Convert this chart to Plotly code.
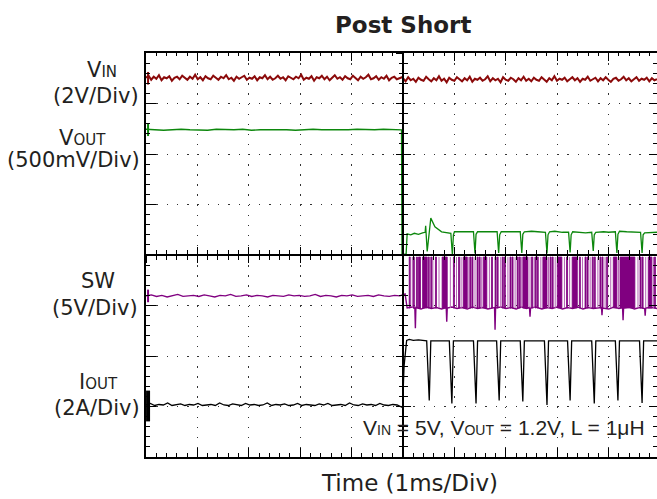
import numpy as np
import plotly.graph_objects as go

# ---------------- data (time in ms, amplitude in scope divisions) ----------------
vin_left = [7.51, 7.55, 7.47, 7.53, 7.49, 7.56, 7.46, 7.52, 7.50, 7.54,
            7.45, 7.51, 7.53, 7.48, 7.55, 7.50, 7.47, 7.53, 7.49, 7.57,
            7.48, 7.52, 7.46, 7.54, 7.50, 7.48, 7.55, 7.51, 7.47, 7.53,
            7.50, 7.56, 7.48, 7.51, 7.45, 7.53, 7.49, 7.52, 7.55, 7.47,
            7.51, 7.49, 7.54, 7.46, 7.52, 7.50, 7.56, 7.48, 7.53, 7.47,
            7.50, 7.55, 7.49, 7.52, 7.46, 7.54, 7.51, 7.48, 7.53, 7.50,
            7.57, 7.47, 7.51, 7.49, 7.54, 7.45, 7.52, 7.50, 7.55, 7.48,
            7.53, 7.46, 7.51, 7.56, 7.49, 7.52, 7.47, 7.54, 7.50, 7.48,
            7.55, 7.51, 7.46, 7.53, 7.49, 7.52, 7.57, 7.48, 7.50, 7.54,
            7.47, 7.52, 7.49, 7.55, 7.46, 7.51, 7.53, 7.48, 7.50, 7.52]
vin_right = [7.50, 7.44, 7.52, 7.46, 7.49, 7.43, 7.51, 7.47, 7.45, 7.53,
             7.48, 7.44, 7.50, 7.46, 7.54, 7.45, 7.49, 7.42, 7.51, 7.47,
             7.45, 7.52, 7.48, 7.44, 7.50, 7.46, 7.53, 7.43, 7.49, 7.47,
             7.51, 7.45, 7.48, 7.54, 7.44, 7.50, 7.46, 7.49, 7.42, 7.52,
             7.47, 7.45, 7.51, 7.48, 7.43, 7.50, 7.46, 7.53, 7.45, 7.49,
             7.44, 7.51, 7.47, 7.45, 7.52, 7.48, 7.43, 7.50, 7.46, 7.54,
             7.45, 7.49, 7.47, 7.51, 7.44, 7.48, 7.52, 7.46, 7.50, 7.43,
             7.49, 7.47, 7.53, 7.45, 7.48, 7.51, 7.44, 7.50, 7.46, 7.52,
             7.47, 7.43, 7.49, 7.51, 7.45, 7.48, 7.53, 7.46, 7.50, 7.44,
             7.48, 7.52, 7.45, 7.49, 7.47, 7.51, 7.44, 7.50, 7.46, 7.48]

vout_left = [6.49, 6.48, 6.47, 6.48, 6.49, 6.48, 6.48, 6.47, 6.49, 6.48, 6.48, 6.49, 6.47, 6.48, 6.48,
             6.49, 6.48, 6.47, 6.48, 6.49, 6.48, 6.48, 6.47, 6.48, 6.49, 6.48, 6.48, 6.49, 6.48, 6.48]
vout_right = [(4.97, 6.48), (4.98, 4.00), (5.06, 4.02), (5.08, 4.42), (5.15, 4.40), (5.22, 4.43),
              (5.30, 4.41), (5.38, 4.44), (5.43, 4.45), (5.44, 4.58), (5.47, 4.07), (5.54, 4.73),
              (5.62, 4.56), (5.75, 4.46), (5.88, 4.43), (5.93, 4.43), (5.96, 4.00), (5.98, 4.40),
              (6.00, 4.46), (6.12, 4.46), (6.20, 4.47), (6.30, 4.46), (6.37, 4.46), (6.40, 4.03),
              (6.42, 4.41), (6.45, 4.46), (6.60, 4.46), (6.70, 4.47), (6.83, 4.46), (6.86, 4.04),
              (6.88, 4.40), (6.91, 4.46), (7.05, 4.46), (7.15, 4.45), (7.28, 4.46), (7.31, 4.04),
              (7.33, 4.41), (7.36, 4.46), (7.50, 4.47), (7.62, 4.46), (7.77, 4.45), (7.80, 4.03),
              (7.82, 4.40), (7.85, 4.46), (7.95, 4.47), (8.10, 4.45), (8.22, 4.45), (8.25, 4.05),
              (8.27, 4.40), (8.30, 4.46), (8.45, 4.45), (8.55, 4.44), (8.67, 4.45), (8.70, 4.08),
              (8.72, 4.40), (8.75, 4.45), (8.90, 4.46), (9.00, 4.45), (9.13, 4.46), (9.16, 4.04),
              (9.18, 4.41), (9.21, 4.47), (9.35, 4.46), (9.50, 4.45), (9.62, 4.45), (9.65, 4.04),
              (9.67, 4.40), (9.70, 4.44), (9.85, 4.45), (9.94, 4.45)]

sw_left = [3.19, 3.21, 3.18, 3.20, 3.17, 3.19, 3.22, 3.18, 3.19, 3.20, 3.18, 3.21, 3.19, 3.17, 3.20,
           3.19, 3.22, 3.18, 3.19, 3.21, 3.18, 3.20, 3.19, 3.17, 3.20, 3.19, 3.18, 3.21, 3.19, 3.20,
           3.18, 3.19, 3.22, 3.18, 3.20, 3.19, 3.17, 3.20, 3.19, 3.21, 3.18, 3.19, 3.20, 3.18, 3.21,
           3.19, 3.18, 3.20, 3.19, 3.23]
sw_base = [(5.08, 2.95), (5.18, 2.97), (5.23, 2.94), (5.24, 2.55), (5.25, 2.96), (5.35, 2.93),
           (5.45, 2.97), (5.55, 2.94), (5.65, 2.96), (5.75, 2.93), (5.84, 2.96), (5.85, 2.68),
           (5.86, 2.95), (5.95, 2.97), (6.05, 2.94), (6.15, 2.96), (6.25, 2.93), (6.35, 2.97),
           (6.45, 2.94), (6.55, 2.96), (6.65, 2.93), (6.78, 2.96), (6.79, 2.52), (6.80, 2.95),
           (6.90, 2.97), (7.00, 2.94), (7.10, 2.96), (7.20, 2.93), (7.30, 2.97), (7.40, 2.94),
           (7.46, 2.96), (7.47, 2.78), (7.48, 2.95), (7.58, 2.97), (7.70, 2.93), (7.80, 2.96),
           (7.90, 2.94), (8.00, 2.97), (8.10, 2.93), (8.20, 2.96), (8.30, 2.94), (8.40, 2.97),
           (8.50, 2.93), (8.60, 2.96), (8.70, 2.94), (8.86, 2.96), (8.87, 2.81), (8.88, 2.95),
           (9.00, 2.93), (9.10, 2.97), (9.20, 2.94), (9.27, 2.96), (9.28, 2.71), (9.29, 2.95),
           (9.40, 2.97), (9.50, 2.93), (9.60, 2.96), (9.70, 2.94), (9.71, 2.80), (9.72, 2.95),
           (9.85, 2.96), (9.94, 2.94)]
sw_levels = [2.95, 3.96]  # low / high switching levels
sw_on = [(5.12, 5.14), (5.20, 5.22), (5.26, 5.28), (5.30, 5.34), (5.38, 5.47), (5.49, 5.51),
         (5.54, 5.56), (5.63, 5.65), (5.76, 5.86), (5.98, 6.00), (6.08, 6.10), (6.17, 6.25),
         (6.30, 6.32), (6.34, 6.36), (6.44, 6.46), (6.48, 6.50), (6.56, 6.63), (6.72, 6.74),
         (6.79, 6.81), (6.83, 6.85), (6.93, 6.95), (6.97, 6.99), (7.08, 7.10), (7.12, 7.14),
         (7.22, 7.24), (7.26, 7.28), (7.33, 7.43), (7.50, 7.52), (7.57, 7.59), (7.61, 7.63),
         (7.72, 7.80), (7.86, 7.88), (7.90, 7.92), (8.00, 8.09), (8.18, 8.20), (8.29, 8.39),
         (8.43, 8.45), (8.54, 8.56), (8.58, 8.60), (8.68, 8.70), (8.72, 8.74), (8.83, 8.85),
         (8.87, 8.89), (8.96, 8.98), (9.09, 9.16), (9.22, 9.51), (9.61, 9.63), (9.65, 9.67),
         (9.77, 9.84), (9.89, 9.91)]
sw_light = [5.18, 5.58, 5.70, 5.92, 6.04, 6.13, 6.28, 6.40, 6.53, 6.68, 6.90, 7.04, 7.18, 7.30,
            7.47, 7.55, 7.68, 7.83, 7.96, 8.14, 8.24, 8.49, 8.64, 8.79, 8.93, 9.04, 9.19, 9.57,
            9.72, 9.87]

iout_left = [1.03, 1.06, 1.02, 1.04, 1.03, 1.07, 1.02, 1.03, 1.05, 1.02, 1.04, 1.03, 1.06, 1.02, 1.03,
             1.04, 1.02, 1.07, 1.03, 1.02, 1.05, 1.03, 1.02, 1.06, 1.03, 1.04, 1.02, 1.03, 1.07, 1.02,
             1.04, 1.03, 1.05, 1.02, 1.03, 1.06, 1.02, 1.04, 1.03, 1.02, 1.05, 1.03, 1.06, 1.02, 1.03,
             1.04, 1.02, 1.07, 1.03, 1.02, 1.05, 1.03, 1.04, 1.02, 1.06, 1.03, 1.02, 1.04, 1.03, 0.98]
iout_right = [(4.99, 0.98), (5.02, 1.80), (5.04, 2.06), (5.07, 2.31), (5.12, 2.33), (5.20, 2.31),
              (5.30, 2.32), (5.46, 2.30), (5.51, 1.12), (5.54, 2.30), (5.90, 2.30), (5.95, 1.06),
              (5.98, 2.30), (6.37, 2.30), (6.42, 1.06), (6.45, 2.30), (6.82, 2.30), (6.87, 1.12),
              (6.90, 2.30), (7.28, 2.30), (7.33, 1.10), (7.36, 2.30), (7.75, 2.30), (7.80, 1.03),
              (7.83, 2.30), (8.20, 2.30), (8.25, 1.12), (8.28, 2.30), (8.67, 2.30), (8.72, 1.06),
              (8.75, 2.30), (9.13, 2.30), (9.18, 1.12), (9.21, 2.30), (9.60, 2.30), (9.65, 1.07),
              (9.68, 2.30), (9.94, 2.30)]

channel_names = ["VIN", "VOUT", "SW", "IOUT"]
channel_refs = [7.50, 6.48, 3.19, 1.01]

# ---------------- layout constants ----------------
W, H = 657, 499
ML, MR, MT, MB = 146, 0, 53, 42
XMAX = 9.94
YMAX = 8
PW, PH = W - ML - MR, H - MT - MB


def px(x):
    return (x - ML) / PW


def py(y):
    return (H - MB - y) / PH


C_VIN, C_VOUT, C_SW, C_SWL, C_IOUT = "#8b0a0a", "#0c870c", "#800080", "#b565b5", "#000000"
TXT = "#231f20"

fig = go.Figure()

# VIN
fig.add_trace(go.Scatter(
    x=np.concatenate([np.linspace(0, 4.98, len(vin_left)), np.linspace(5.0, XMAX, len(vin_right))]),
    y=vin_left + vin_right, mode="lines", line=dict(color=C_VIN, width=2.0)))

# VOUT
vr_t, vr_v = zip(*vout_right)
fig.add_trace(go.Scatter(
    x=list(np.linspace(0, 4.96, len(vout_left))) + list(vr_t),
    y=vout_left + list(vr_v), mode="lines", line=dict(color=C_VOUT, width=1.3)))

# SW baseline
sb_t, sb_v = zip(*sw_base)
fig.add_trace(go.Scatter(
    x=list(np.linspace(0, 5.04, len(sw_left))) + list(sb_t),
    y=sw_left + list(sb_v), mode="lines", line=dict(color=C_SW, width=1.4)))

# SW light pulses
lx, ly = [], []
for t in sw_light:
    lx += [t, t, None]
    ly += [sw_levels[0], sw_levels[1], None]
fig.add_trace(go.Scatter(x=lx, y=ly, mode="lines", line=dict(color=C_SWL, width=1.0)))

# SW switching pulses
px_, py_ = [], []
for t0, t1 in sw_on:
    px_ += [t0, t0, t1, t1, t0, None]
    py_ += [sw_levels[0], sw_levels[1], sw_levels[1], sw_levels[0], sw_levels[0], None]
fig.add_trace(go.Scatter(x=px_, y=py_, mode="lines", fill="toself", fillcolor=C_SW,
                         line=dict(color=C_SW, width=0.8)))

# IOUT
ir_t, ir_v = zip(*iout_right)
fig.add_trace(go.Scatter(
    x=list(np.linspace(0, 4.97, len(iout_left))) + list(ir_t),
    y=iout_left + list(ir_v), mode="lines", line=dict(color=C_IOUT, width=1.3)))

# channel ground markers at left edge
fig.add_trace(go.Scatter(
    x=[0.04] * 3, y=channel_refs[:3], mode="markers", cliponaxis=False,
    marker=dict(symbol="line-ns", size=9, color=[C_VIN, C_VOUT, C_SW],
                line=dict(width=2, color=[C_VIN, C_VOUT, C_SW]))))
fig.add_trace(go.Scatter(
    x=[0.04], y=channel_refs[3:], mode="markers", cliponaxis=False,
    marker=dict(symbol="line-ns", size=22, color=C_IOUT, line=dict(width=4, color=C_IOUT))))

# dummy traces so the overlay (tick) axes exist
for xa, ya in [("x2", "y"), ("x", "y2"), ("x3", "y"), ("x4", "y"), ("x", "y3"), ("x", "y4")]:
    fig.add_trace(go.Scatter(x=[None], y=[None], xaxis=xa, yaxis=ya, mode="lines"))

for tr in fig.data:
    tr.showlegend = False
    tr.hoverinfo = "skip"

common = dict(showgrid=False, zeroline=False, showticklabels=False, tickcolor="black",
              tickwidth=1, dtick=1, tick0=0, fixedrange=True)


def minor(length):
    return dict(dtick=0.2, tick0=0, ticks="inside", ticklen=length, tickcolor="black",
                tickwidth=1, showgrid=False)


def minor_out(length):
    return dict(dtick=0.2, tick0=0, ticks="outside", ticklen=length, tickcolor="black",
                tickwidth=1, showgrid=False)


fig.update_layout(
    width=W, height=H, margin=dict(l=ML, r=MR, t=MT, b=MB, pad=0),
    paper_bgcolor="white", plot_bgcolor="white",
    xaxis=dict(common, range=[0, XMAX], domain=[0, 1], anchor="y", showline=True,
               linecolor="black", linewidth=1.5, ticks="inside", ticklen=9, minor=minor(4),
               showgrid=True, gridcolor="#333333", gridwidth=1.4, griddash="1.4px,8.7px"),
    xaxis2=dict(common, range=[0, XMAX], overlaying="x", side="top", anchor="y", showline=True,
                linecolor="black", linewidth=1.5, ticks="inside", ticklen=8, minor=minor(3.5)),
    xaxis3=dict(common, range=[0, XMAX], overlaying="x", anchor="free", position=0.5,
                side="bottom", showline=True, linecolor="black", linewidth=1.5,
                ticks="inside", ticklen=7, minor=minor(4)),
    xaxis4=dict(common, range=[0, XMAX], overlaying="x", anchor="free", position=0.5,
                side="bottom", showline=False, ticks="outside", ticklen=7, minor=minor_out(4)),
    yaxis=dict(common, range=[0, YMAX], domain=[0, 1], anchor="x", showline=True,
               linecolor="black", linewidth=1.5, ticks="inside", ticklen=10, minor=minor(4.5),
               showgrid=True, gridcolor="#333333", gridwidth=1.4, griddash="1.4px,8.88px"),
    yaxis2=dict(common, range=[0, YMAX], overlaying="y", side="right", anchor="x",
                showline=False, ticks="inside", ticklen=8, minor=minor(4)),
    yaxis3=dict(common, range=[0, YMAX], overlaying="y", anchor="free", position=5 / XMAX,
                side="left", showline=True, linecolor="black", linewidth=1.5,
                ticks="inside", ticklen=7, minor=minor(4)),
    yaxis4=dict(common, range=[0, YMAX], overlaying="y", anchor="free", position=5 / XMAX,
                side="left", showline=False, ticks="outside", ticklen=7, minor=minor_out(4)),
)

SUB = "<span style='font-size:15px'>{}</span>"
SUB2 = "<span style='font-size:14px'>{}</span>"
LBL = dict(family="DejaVu Sans", size=21, color=TXT)

annos = [
    ("<b>Post Short</b>", 403.4, 25, "center", dict(family="DejaVu Sans", size=23, color=TXT)),
    ("Time (1ms/Div)", 409, 483, "center", dict(family="DejaVu Sans", size=23, color=TXT)),
    ("V" + SUB.format("IN"), 102, 69.5, "center", LBL),
    ("(2V/Div)", 140, 95.5, "right", LBL),
    ("V" + SUB.format("OUT"), 82, 137.5, "center", LBL),
    ("(500mV/Div)", 141, 159.5, "right", LBL),
    ("SW", 97.5, 280.5, "center", LBL),
    ("(5V/Div)", 139, 308, "right", LBL),
    ("I" + SUB.format("OUT"), 98, 381.5, "center", LBL),
    ("(2A/Div)", 141, 408, "right", LBL),
    ("V" + SUB2.format("IN") + " = 5V, V" + SUB2.format("OUT") + " = 1.2V, L = 1\u03bcH",
     646, 427.5, "right", dict(family="Liberation Sans", size=21, color=TXT)),
]
for text, x, y, xa, font in annos:
    fig.add_annotation(text=text, xref="paper", yref="paper", x=px(x), y=py(y),
                       xanchor=xa, yanchor="middle", showarrow=False, font=font, borderpad=0)

fig.write_html("out.html", config={"displayModeBar": False},
               post_script="document.body.style.margin='0px';document.body.style.padding='0px';"
                           "document.documentElement.style.overflow='hidden';")
